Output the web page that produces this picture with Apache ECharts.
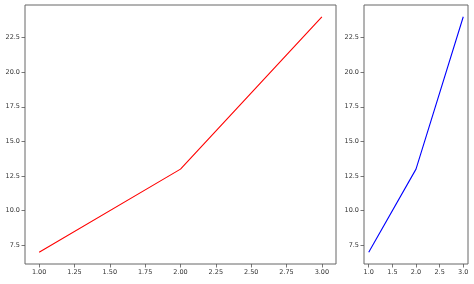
<!DOCTYPE html>
<html>
<head>
<meta charset="utf-8">
<script src="https://cdn.jsdelivr.net/npm/echarts@6/dist/echarts.min.js"></script>
<style>html,body{margin:0;padding:0;background:#fff}#c{width:474px;height:284px}</style>
</head>
<body>
<div id="c"></div>
<script>
const xValues = [1, 2, 3];
const yValues = [7, 13, 24];
const leftXTicks = [1.00, 1.25, 1.50, 1.75, 2.00, 2.25, 2.50, 2.75, 3.00];
const rightXTicks = [1.0, 1.5, 2.0, 2.5, 3.0];
const yTicks = [7.5, 10.0, 12.5, 15.0, 17.5, 20.0, 22.5];
const leftXDecimals = 2, rightXDecimals = 1, yDecimals = 1;

const chart = echarts.init(document.getElementById('c'));
const font = {fontFamily: 'DejaVu Sans', fontSize: 6.5, color: '#333'};
function xAxis(idx, ticks, dec) {
  return {
    type: 'value', gridIndex: idx, min: 0.9, max: 3.1,
    axisLine: {show: false},
    splitLine: {show: false},
    axisTick: {show: true, length: 3.5, inside: false, customValues: ticks, lineStyle: {color: '#555', width: 0.8}},
    axisLabel: Object.assign({customValues: ticks, margin: 5, formatter: v => v.toFixed(dec)}, font)
  };
}
function yAxis(idx) {
  return {
    type: 'value', gridIndex: idx, min: 6.15, max: 24.85,
    axisLine: {show: false},
    splitLine: {show: false},
    axisTick: {show: true, length: 3.5, inside: false, customValues: yTicks, lineStyle: {color: '#555', width: 0.8}},
    axisLabel: Object.assign({customValues: yTicks, margin: 5, formatter: v => v.toFixed(yDecimals)}, font)
  };
}
chart.setOption({
  animation: false,
  backgroundColor: '#fff',
  grid: [
    {left: 25, top: 5, width: 311, height: 259, show: true, borderColor: '#666', borderWidth: 1, backgroundColor: 'transparent'},
    {left: 364, top: 5, width: 104, height: 259, show: true, borderColor: '#666', borderWidth: 1, backgroundColor: 'transparent'}
  ],
  xAxis: [xAxis(0, leftXTicks, leftXDecimals), xAxis(1, rightXTicks, rightXDecimals)],
  yAxis: [yAxis(0), yAxis(1)],
  series: [
    {type: 'line', xAxisIndex: 0, yAxisIndex: 0, data: xValues.map((x, i) => [x, yValues[i]]), showSymbol: false, lineStyle: {color: '#ff0000', width: 1.1}},
    {type: 'line', xAxisIndex: 1, yAxisIndex: 1, data: xValues.map((x, i) => [x, yValues[i]]), showSymbol: false, lineStyle: {color: '#0000ff', width: 1.1}}
  ]
});
</script>
</body>
</html>
